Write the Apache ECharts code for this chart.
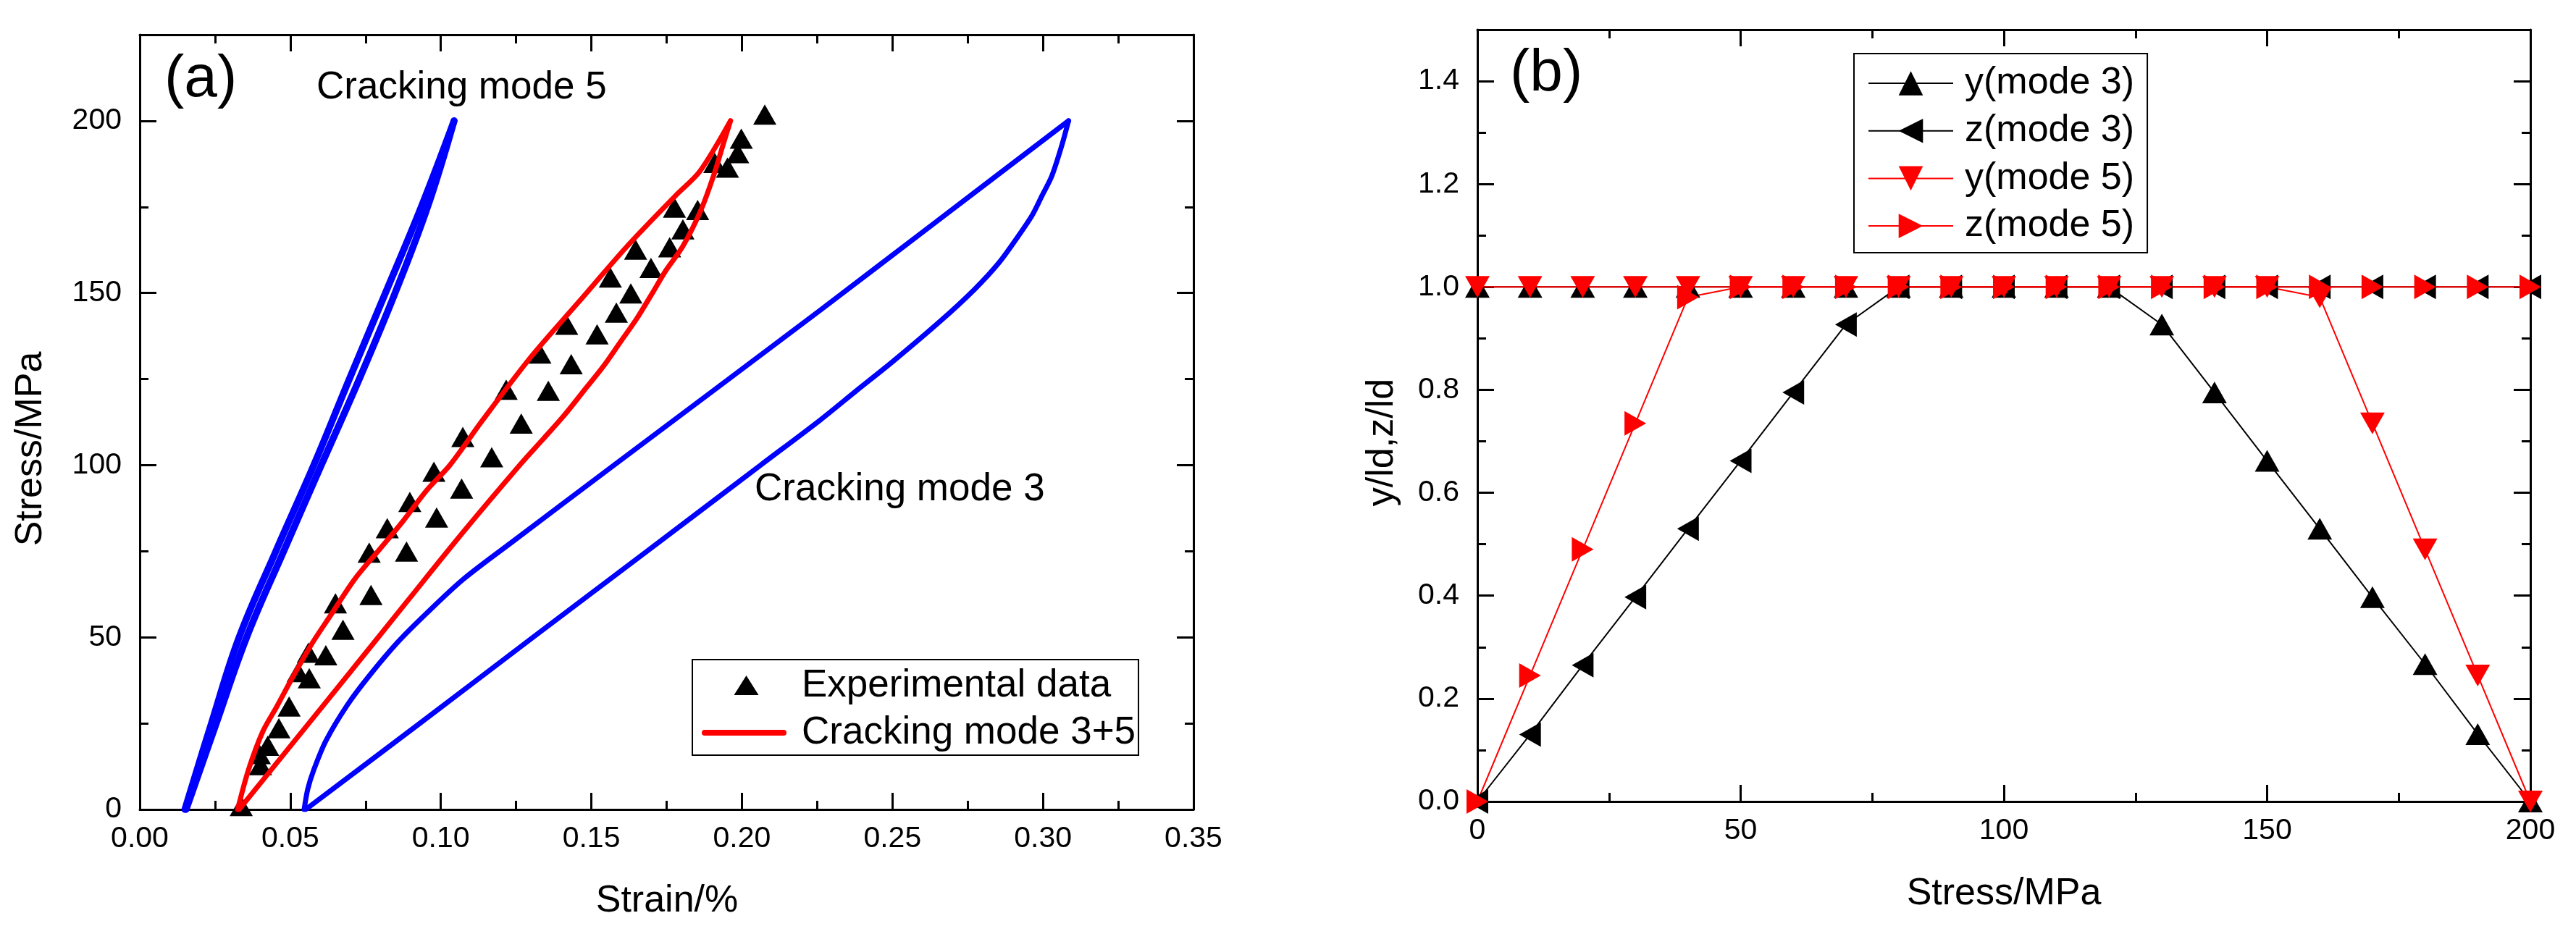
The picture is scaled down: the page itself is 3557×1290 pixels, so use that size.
<!DOCTYPE html>
<html><head><meta charset="utf-8">
<script src="https://cdn.jsdelivr.net/npm/echarts@6/dist/echarts.min.js"></script>
<style>html,body{margin:0;padding:0;background:#fff}#c{width:3557px;height:1290px}</style>
</head><body><div id="c"></div>
<script>
// ---------- Panel (a): stress-strain ----------
const expStrain = [0.0337,0.0401,0.0397,0.0425,0.0462,0.0496,0.0563,0.0526,0.0618,0.0560,0.0675,0.0650,0.0768,0.0762,0.0886,0.0822,0.0986,0.0897,0.1069,0.0977,0.1169,0.1073,0.1267,0.1357,0.1217,0.1433,0.1329,0.1519,0.1418,0.1583,0.1631,0.1563,0.1698,0.1647,0.1760,0.1804,0.1853,0.1776,0.1952,0.1910,0.1986,0.1998,0.2076];
const expStress = [1.0,12.9,16.1,18.5,23.6,29.9,38.1,39.9,44.8,45.5,52.2,59.9,62.3,74.6,74.9,81.7,84.8,89.3,93.2,98.1,102.3,108.2,112.1,121.6,121.9,129.3,132.4,138.0,140.8,144.3,149.9,154.5,157.3,162.6,163.3,168.5,174.1,174.8,186.4,187.8,190.6,194.8,201.8];

// Cracking mode 3+5 (red loop)
const m35UpperStrain = [0.0325,0.0361,0.0409,0.0454,0.0506,0.0570,0.0634,0.0714,0.0794,0.0874,0.0954,0.1030,0.1139,0.1299,0.1459,0.1619,0.1780,0.1860,0.1962];
const m35UpperStress = [0,11.5,22.7,29.7,38.1,47.9,56.4,66.9,75.3,83.7,92.8,100,113.1,131.4,147.5,163.6,178.3,185.3,200];
const m35LowerStrain = [0.1962,0.1940,0.1908,0.1864,0.1804,0.1748,0.1700,0.1651,0.1595,0.1539,0.1475,0.1411,0.1339,0.1267,0.1069,0.0884,0.0700,0.0515,0.0330];
const m35LowerStress = [200,193.8,184.6,174.1,163.6,156.6,149.6,142.6,135.6,128.6,121.6,114.6,107.5,100.5,80,60,40,20,0];

// Cracking mode 3 (blue, right loop)
const m3UpperStrain = [0.0546,0.0558,0.0578,0.0618,0.0690,0.0762,0.0858,0.0954,0.1075,0.1243,0.1575,0.1918,0.2260,0.2644,0.3085];
const m3UpperStress = [0,5.9,11.5,19.9,30.4,38.8,48.7,57.1,66.9,78.1,100,122.5,145,170.6,200];
const m3LowerStrain = [0.3085,0.3061,0.3029,0.2997,0.2965,0.2917,0.2853,0.2772,0.2660,0.2500,0.2380,0.2260,0.2062,0.1685,0.1306,0.0930,0.0551];
const m3LowerStress = [200,192.4,183.9,178.3,172.7,166.4,158.7,151,141.9,130,121.6,113.1,100,75,50,25,0];

// Cracking mode 5 (blue, left narrow loop)
const m5Stress = [0,25,50,75,100,125,150,175,200];
const m5LeftStrain = [0.0150,0.0238,0.0330,0.0452,0.0578,0.0696,0.0816,0.0935,0.1044];
const m5RightStrain = [0.0154,0.0254,0.0355,0.0478,0.0603,0.0729,0.0848,0.0956,0.1044];

// ---------- Panel (b): y/ld, z/ld vs stress ----------
const stressB = [0,10,20,30,40,50,60,70,80,90,100,110,120,130,140,150,160,170,180,190,200];
const yMode3 = [1,1,1,1,1,1,1,1,1,1,1,1,1,0.927,0.795,0.662,0.530,0.397,0.267,0.131,0];
const zMode3 = [0,0.130,0.265,0.397,0.530,0.662,0.795,0.927,1,1,1,1,1,1,1,1,1,1,1,1,1];
const yMode5 = [1,1,1,1,1,1,1,1,1,1,1,1,1,1,1,1,0.980,0.735,0.490,0.245,0];
const zMode5 = [0,0.245,0.490,0.735,0.980,1,1,1,1,1,1,1,1,1,1,1,1,1,1,1,1];

// ---------- helpers ----------
const FONT = "'Liberation Sans', Arial, Helvetica, sans-serif";
const zip = (xs, ys) => xs.map((x, i) => [x, ys[i]]);
const BLACK = '#000';
const RED = '#ff0000';
const BLUE = '#0000ff';

function xMain(grid, pos, min, max, interval, labels, fmt) {
  return {
    type: 'value', gridIndex: grid, position: pos, min, max, interval,
    axisLine: { show: true, onZero: false, lineStyle: { color: BLACK, width: 3 } },
    axisTick: { show: true, inside: true, length: 23, lineStyle: { color: BLACK, width: 3 } },
    minorTick: { show: true, splitNumber: 2, length: 12, lineStyle: { color: BLACK, width: 3 } },
    axisLabel: { show: labels, margin: 41, verticalAlign: 'middle', fontSize: 41, fontFamily: FONT, color: BLACK, formatter: fmt, hideOverlap: false },
    splitLine: { show: false }, minorSplitLine: { show: false }
  };
}
function xHidden(grid, min, max) {
  return { type: 'value', gridIndex: grid, min, max, show: false, splitLine: { show: false } };
}
function yMain(grid, pos, min, max, interval, labels, fmt) {
  return {
    type: 'value', gridIndex: grid, position: pos, min, max, interval,
    axisLine: { show: true, onZero: false, lineStyle: { color: BLACK, width: 3 } },
    axisTick: { show: true, inside: true, length: 23, lineStyle: { color: BLACK, width: 3 } },
    minorTick: { show: false },
    axisLabel: { show: labels, margin: 25, fontSize: 41, fontFamily: FONT, color: BLACK, formatter: fmt, hideOverlap: false },
    splitLine: { show: false }, minorSplitLine: { show: false }
  };
}
function yMinor(grid, pos, min, max, interval) {
  return {
    type: 'value', gridIndex: grid, position: pos, min, max, interval,
    axisLine: { show: false, onZero: false },
    axisTick: { show: true, inside: true, length: 12, lineStyle: { color: BLACK, width: 3 } },
    axisLabel: { show: false },
    splitLine: { show: false }, minorSplitLine: { show: false }
  };
}
function curve(name, xs, ys, color, width, smooth) {
  return { name, type: 'line', xAxisIndex: 0, yAxisIndex: 0, symbol: 'none', silent: true,
    smooth: smooth, data: zip(xs, ys),
    lineStyle: { color, width, join: 'round', cap: 'round' }, itemStyle: { color } };
}

const gridA = { left: 193, top: 48, width: 1455, height: 1070, outerBoundsMode: 'none', containLabel: false };
const gridB = { left: 2040, top: 41, width: 1454, height: 1066, outerBoundsMode: 'none', containLabel: false };

const UP = 'path://M0,10L5,0L10,10Z';
const LEFT = 'path://M10,0L0,5L10,10Z';
const DOWN = 'path://M0,0L10,0L5,10Z';
const RIGHT = 'path://M0,0L10,5L0,10Z';

function txt(text, x, y, size, align, rot) {
  return {
    type: 'text', x, y, rotation: rot || 0, silent: true,
    style: { text, font: size + 'px ' + FONT, fill: BLACK,
      align: align, verticalAlign: 'middle', textAlign: align, textVerticalAlign: 'middle' }
  };
}

const option = {
  animation: false,
  backgroundColor: '#fff',
  grid: [gridA, Object.assign({}, gridA), gridB, Object.assign({}, gridB)],
  xAxis: [
    xMain(0, 'bottom', 0, 0.35, 0.05, true, v => v.toFixed(2)),
    xMain(0, 'top', 0, 0.35, 0.05, false),
    xHidden(1, 0, 0.35),
    xMain(2, 'bottom', 0, 200, 50, true, v => String(Math.round(v))),
    xMain(2, 'top', 0, 200, 50, false),
    xHidden(3, 0, 200)
  ],
  yAxis: [
    yMain(0, 'left', 0, 225, 50, true, v => (v > 201 ? '' : String(Math.round(v)))),
    yMain(0, 'right', 0, 225, 50, false),
    yMinor(1, 'left', 0, 225, 25),
    yMinor(1, 'right', 0, 225, 25),
    yMain(2, 'left', 0, 1.5, 0.2, true, v => (v > 1.41 ? '' : v.toFixed(1))),
    yMain(2, 'right', 0, 1.5, 0.2, false),
    yMinor(3, 'left', 0, 1.5, 0.1),
    yMinor(3, 'right', 0, 1.5, 0.1)
  ],
  legend: [
    {
      data: [
        { name: 'Experimental data', icon: 'path://M0,0M117,30M44.5,28L61.5,1L78.5,28Z' },
        { name: 'Cracking mode 3+5', icon: 'path://M0,0M117,30M4,11L113,11Q117,11 117,15Q117,19 113,19L4,19Q0,19 0,15Q0,11 4,11Z' }
      ],
      orient: 'vertical', left: 956, top: 911, symbolKeepAspect: true,
      padding: [9.5, 4, 4.5, 13], itemGap: 12, itemWidth: 117, itemHeight: 30,
      borderColor: BLACK, borderWidth: 2, backgroundColor: '#fff', selectedMode: false,
      textStyle: { fontSize: 53, fontFamily: FONT, color: BLACK, padding: [0, 0, 0, 16] }
    },
    {
      data: ['y(mode 3)', 'z(mode 3)', 'y(mode 5)', 'z(mode 5)'],
      orient: 'vertical', left: 2560, top: 74,
      padding: [15, 18, 11, 19], itemGap: 13.7, itemWidth: 117, itemHeight: 42,
      borderColor: BLACK, borderWidth: 2, backgroundColor: '#fff', selectedMode: false,
      textStyle: { fontSize: 52, fontFamily: FONT, color: BLACK, padding: [0, 0, 0, 11] }
    }
  ],
  series: [
    curve('Cracking mode 5', m5RightStrain, m5Stress, BLUE, 9.5, 0.4),
    curve('Cracking mode 5', m5LeftStrain, m5Stress, BLUE, 9.5, 0.4),
    curve('Cracking mode 3', m3UpperStrain, m3UpperStress, BLUE, 7, 0.3),
    curve('Cracking mode 3', m3LowerStrain, m3LowerStress, BLUE, 7, 0.3),
    { name: 'Experimental data', type: 'scatter', xAxisIndex: 0, yAxisIndex: 0, symbol: 'triangle',
      symbolSize: [32, 28], data: zip(expStrain, expStress), itemStyle: { color: BLACK, opacity: 1 } },
    curve('Cracking mode 3+5', m35UpperStrain, m35UpperStress, RED, 7, 0.3),
    curve('Cracking mode 3+5', m35LowerStrain, m35LowerStress, RED, 7, 0.3),

    { name: 'z(mode 3)', type: 'line', xAxisIndex: 3, yAxisIndex: 4, symbol: LEFT, symbolSize: [30, 34],
      showAllSymbol: true, data: zip(stressB, zMode3),
      lineStyle: { color: BLACK, width: 2 }, itemStyle: { color: BLACK, opacity: 1 } },
    { name: 'y(mode 3)', type: 'line', xAxisIndex: 3, yAxisIndex: 4, symbol: UP, symbolSize: [34, 30],
      showAllSymbol: true, data: zip(stressB, yMode3),
      lineStyle: { color: BLACK, width: 2 }, itemStyle: { color: BLACK, opacity: 1 } },
    { name: 'z(mode 5)', type: 'line', xAxisIndex: 3, yAxisIndex: 4, symbol: RIGHT, symbolSize: [30, 34],
      showAllSymbol: true, data: zip(stressB, zMode5),
      lineStyle: { color: RED, width: 2 }, itemStyle: { color: RED, opacity: 1 } },
    { name: 'y(mode 5)', type: 'line', xAxisIndex: 3, yAxisIndex: 4, symbol: DOWN, symbolSize: [34, 30],
      showAllSymbol: true, data: zip(stressB, yMode5),
      lineStyle: { color: RED, width: 2 }, itemStyle: { color: RED, opacity: 1 } }
  ],
  graphic: [
    txt('(a)', 227, 110, 82, 'left'),
    txt('Cracking mode 5', 437, 121, 53, 'left'),
    txt('Cracking mode 3', 1042, 676, 53, 'left'),
    txt('Strain/%', 921, 1245, 52, 'center'),
    txt('Stress/MPa', 43, 620, 52, 'center', Math.PI / 2),
    txt('(b)', 2085, 102, 82, 'left'),
    txt('y/ld,z/ld', 1909, 611, 52, 'center', Math.PI / 2),
    txt('Stress/MPa', 2767, 1235, 52, 'center')
  ]
};

const chart = echarts.init(document.getElementById('c'), null, { renderer: 'canvas', width: 3557, height: 1290 });
chart.setOption(option);
</script>
</body></html>
